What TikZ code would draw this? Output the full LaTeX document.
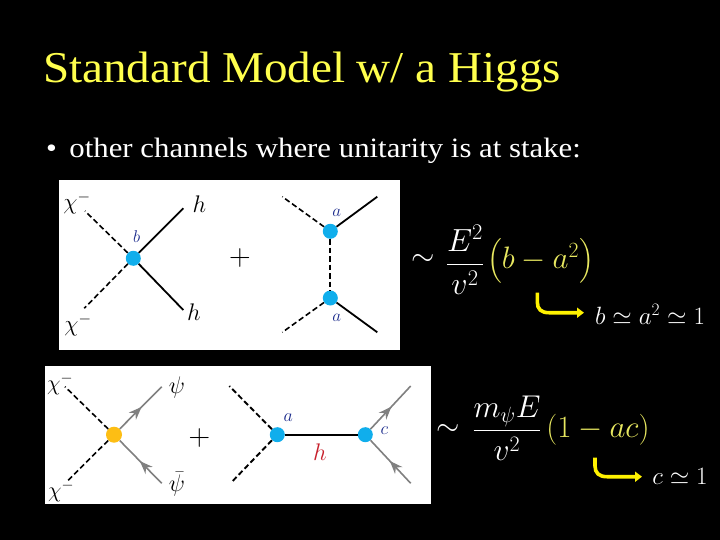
\documentclass[tikz,border=0pt]{standalone}
\usepackage{fix-cm}
\usepackage{fontspec}
\usepackage{amsmath}
\setmainfont{Liberation Serif}
\newfontfamily\titlefont[FakeStretch=1.07]{Liberation Serif}
\newfontfamily\bodyfont[FakeStretch=1.10]{Liberation Serif}
\usetikzlibrary{decorations.markings,arrows.meta}
\definecolor{vblue}{HTML}{10AEEC}
\definecolor{vgold}{HTML}{FDBE14}
\definecolor{lblue}{HTML}{1A2A8C}
\definecolor{lred}{HTML}{C8202C}
\definecolor{tyellow}{HTML}{FFFF4D}
\definecolor{fyellow}{HTML}{E8E860}
\newcommand{\msize}[1]{\fontsize{#1}{#1}\selectfont}
\tikzset{
  vtx/.style={circle,inner sep=0pt,minimum size=15pt,fill=vblue},
  vtxgold/.style={circle,inner sep=0pt,minimum size=16pt,fill=vgold},
  dash line/.style={black,line width=1.6pt,dash pattern=on 5.5pt off 3pt},
  solid line/.style={black,line width=1.8pt},
  fermion/.style={draw=black!50,line width=1.6pt,postaction={decorate},
    decoration={markings,mark=at position 0.52 with {\arrow[black!50]{Stealth[length=13pt,width=10pt]}}}},
  lbl/.style={inner sep=0pt,text=black},
  cplg/.style={inner sep=0pt,text=lblue,font=\msize{17}},
  ylarrow/.style={draw=yellow,line width=3.6pt,-{Triangle[length=7pt,width=10pt]}},
  whitemath/.style={inner sep=0pt,text=white},
}
\begin{document}
\begin{tikzpicture}[x=1pt,y=-1pt]
\useasboundingbox (0,0) rectangle (720,540);
\fill[black] (0,0) rectangle (720,540);
\node[anchor=base west,inner sep=0pt,text=tyellow,font=\titlefont\msize{44}] (title) at (43,82.5) {Standard Model w/ a Higgs};
\node[anchor=base west,inner sep=0pt,text=white,font=\bodyfont\msize{28}] (bullet) at (46,158) {•\hspace{12.5pt}other channels where unitarity is at stake:};
% panel 1
\fill[white] (59,180) rectangle (400,350);
\node[vtx] (vb) at (133.3,258.3) {};
\coordinate (c1) at (85,211);
\coordinate (c2) at (84.3,308.3);
\coordinate (h1) at (183.3,208.3);
\coordinate (h2) at (183.3,310);
\draw[dash line] (vb) -- (c1);
\draw[dash line] (vb) -- (c2);
\draw[solid line] (vb) -- (h1);
\draw[solid line] (vb) -- (h2);
\node[vtx] (va1) at (330.3,231.3) {};
\node[vtx] (va2) at (330.3,298) {};
\coordinate (d1) at (282.3,196.7);
\coordinate (d2) at (282.3,332.3);
\coordinate (e1) at (377.3,196.7);
\coordinate (e2) at (377.3,332.3);
\draw[dash line] (va1) -- (d1);
\draw[dash line] (va2) -- (d2);
\draw[solid line] (va1) -- (e1);
\draw[solid line] (va2) -- (e2);
\draw[dash line,line width=2.2pt] (va1) -- (va2);
\node[lbl,font=\msize{23}] (x1) at (77,203) {$\chi^-$};
\node[lbl,font=\msize{23}] (x2) at (78,325) {$\chi^-$};
\node[lbl,font=\msize{24}] (h3) at (199.5,204.3) {$h$};
\node[lbl,font=\msize{24}] (h4) at (194,312) {$h$};
\node[cplg] (lb) at (136.7,237) {$b$};
\node[cplg] (la1) at (336.7,212.5) {$a$};
\node[cplg] (la2) at (336.7,318) {$a$};
\node[lbl,font=\msize{30}] (plus1) at (240,258.3) {$+$};
% panel 2
\fill[white] (45,366) rectangle (430.7,504);
\node[vtxgold] (vy) at (114,434.7) {};
\coordinate (f1) at (65,386.7);
\coordinate (f2) at (66.7,481.7);
\coordinate (g1) at (161.7,386.7);
\coordinate (g2) at (161.7,483.3);
\draw[dash line] (vy) -- (f1);
\draw[dash line] (vy) -- (f2);
\draw[fermion] (vy) -- (g1);
\draw[fermion] (g2) -- (vy);
\node[vtx] (va3) at (277.3,434.7) {};
\node[vtx] (vc) at (365.3,434.7) {};
\coordinate (i1) at (229.3,386);
\coordinate (i2) at (232.7,481);
\coordinate (j1) at (410.7,386);
\coordinate (j2) at (410.7,483.3);
\draw[dash line,line width=1.9pt] (va3) -- (i1);
\draw[dash line,line width=1.9pt] (va3) -- (i2);
\draw[fermion] (vc) -- (j1);
\draw[fermion] (j2) -- (vc);
\draw[black,line width=2.2pt] (va3) -- (vc);
\node[lbl,font=\msize{22}] (x3) at (60,384) {$\chi^-$};
\node[lbl,font=\msize{22}] (x4) at (61,491.5) {$\chi^-$};
\node[lbl,font=\msize{24}] (p1) at (177,387) {$\psi$};
\node[lbl,font=\msize{24}] (p2) at (177,484) {$\bar\psi$};
\node[lbl,font=\msize{30}] (plus2) at (199.3,438.3) {$+$};
\node[cplg,font=\msize{18}] (la3) at (288.3,417.3) {$a$};
\node[cplg,font=\msize{18}] (lc) at (384.3,430.7) {$c$};
\node[lbl,text=lred,font=\msize{24}] (lh) at (320,452) {$h$};
% formula 1
\node[whitemath,font=\msize{30}] (s1) at (423,260) {$\sim$};
\node[whitemath,font=\msize{32}] (fr1) at (465,260) {$\dfrac{E^2}{v^2}$};
\node[inner sep=0pt,text=fyellow,font=\msize{31}] (par1) at (540.5,261) {$\left(b-a^2\right)$};
\node[whitemath,font=\msize{25}] (res1) at (650,314) {$b\simeq a^2\simeq 1$};
\coordinate (r1) at (537.3,292.7);
\coordinate (r1e) at (584,312.7);
\draw[ylarrow] (r1) -- (537.3,302) .. controls (537.3,309) and (541,312.7) .. (549,312.7) -- (r1e);
% formula 2
\node[whitemath,font=\msize{30}] (s2) at (448,430) {$\sim$};
\node[whitemath,font=\msize{31.5}] (fr2) at (507,428) {$\dfrac{m_\psi E}{v^2}$};
\node[inner sep=0pt,text=fyellow,font=\msize{31}] (par2) at (598,430) {$(1-ac)$};
\node[whitemath,font=\msize{25}] (res2) at (680,476) {$c\simeq 1$};
\coordinate (r2) at (595,457.7);
\coordinate (r2e) at (642,476.7);
\draw[ylarrow] (r2) -- (595,466) .. controls (595,473) and (599,476.7) .. (607,476.7) -- (r2e);
\end{tikzpicture}
\end{document}
